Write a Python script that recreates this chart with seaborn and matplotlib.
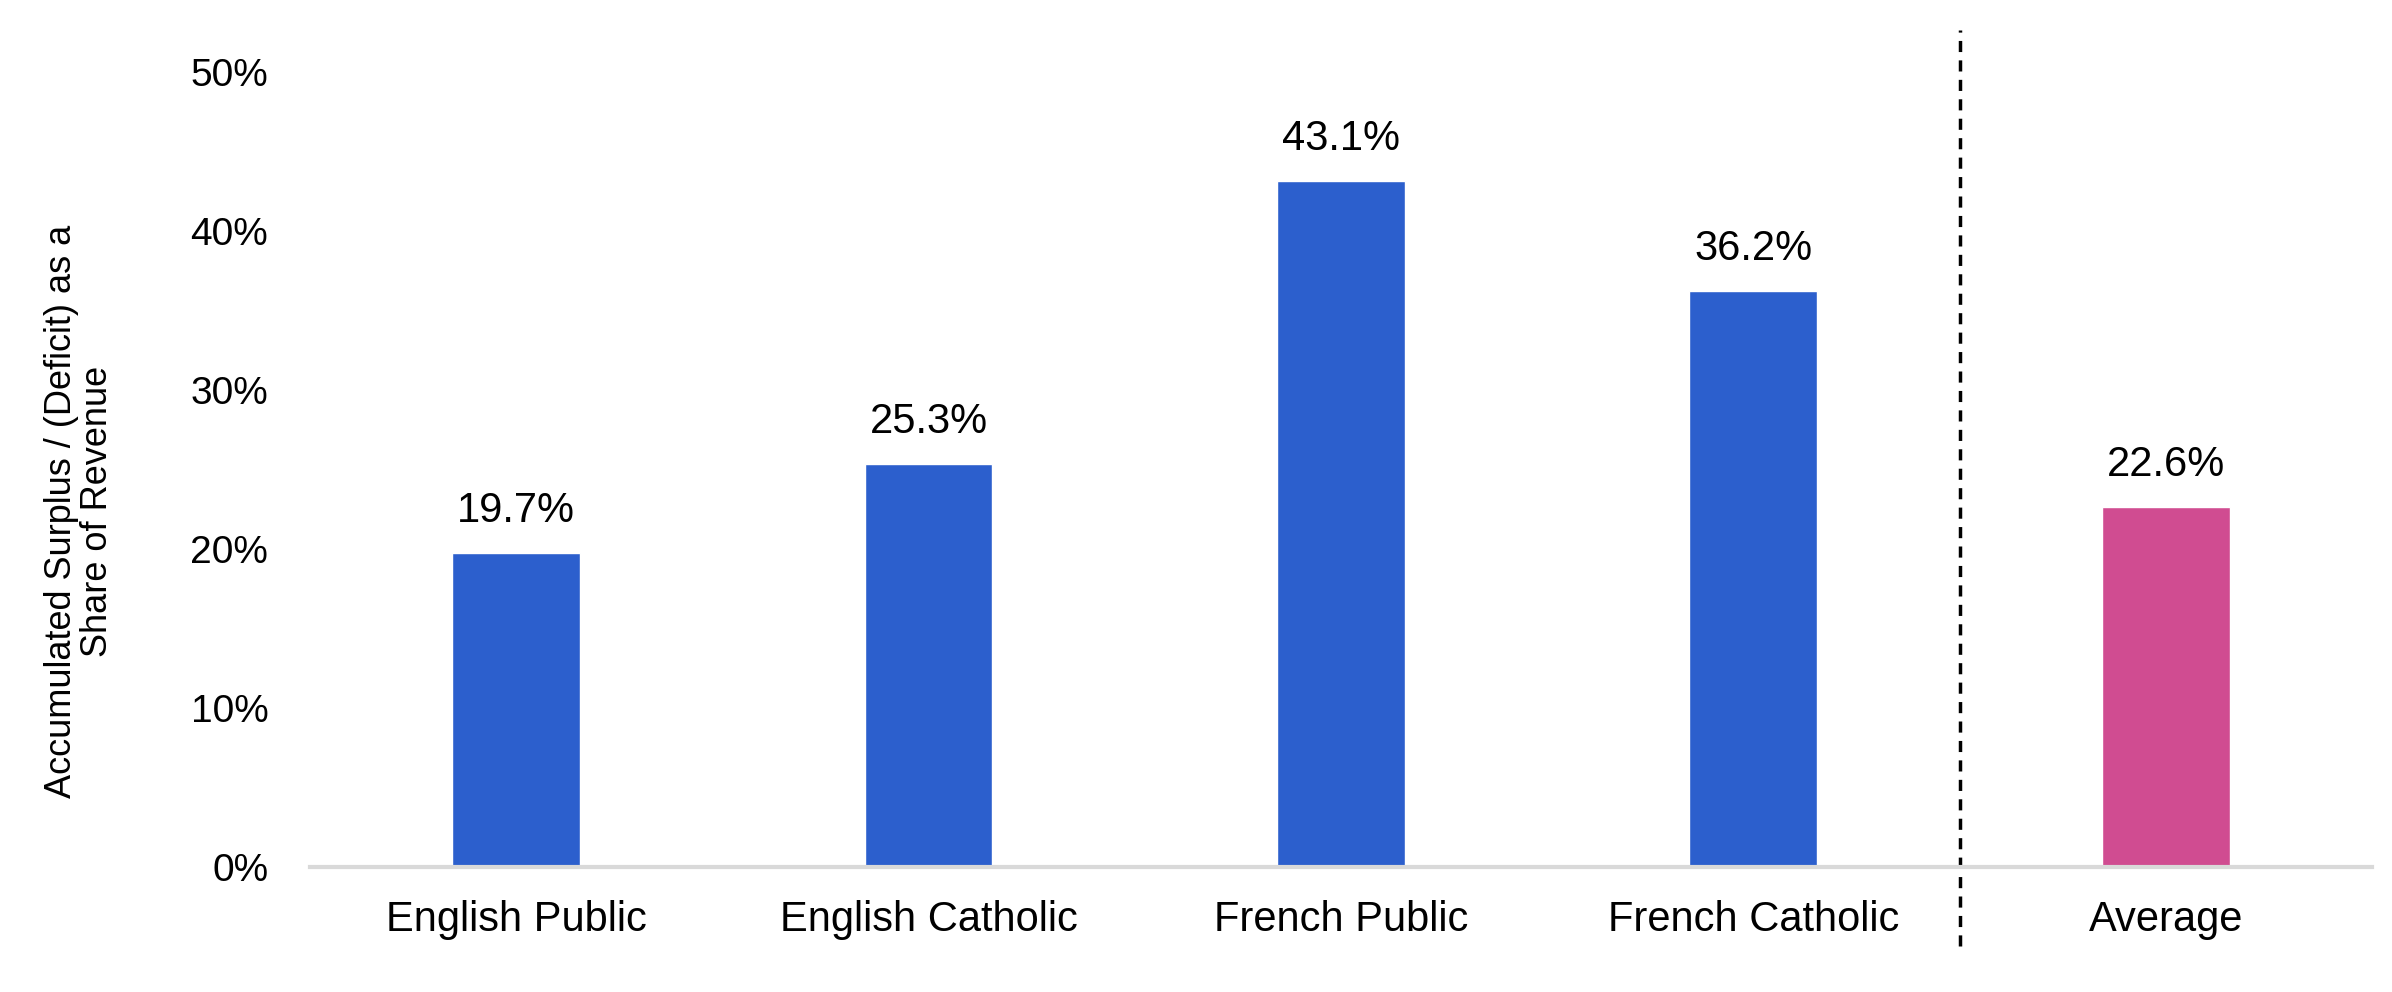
import matplotlib
matplotlib.use("Agg")
import matplotlib.pyplot as plt
import numpy as np
import pandas as pd
import seaborn as sns
from matplotlib.ticker import PercentFormatter

categorii = ["English Public", "English Catholic", "French Public", "French Catholic", "Average"]
valori = [19.7, 25.3, 43.1, 36.2, 22.6]
culori = ["#2C5FCD", "#2C5FCD", "#2C5FCD", "#2C5FCD", "#D04C91"]
etichete_y = [0, 10, 20, 30, 40, 50]

sns.set_style("white")
plt.rcParams["font.family"] = ["Liberation Sans", "DejaVu Sans"]
plt.rcParams["text.color"] = "black"
plt.rcParams["xtick.color"] = "black"
plt.rcParams["ytick.color"] = "black"
plt.rcParams["axes.labelcolor"] = "black"

t = pd.DataFrame({"categorie": categorii, "valoare": valori})

fig = plt.figure(figsize=(23.92, 9.92), dpi=100)
ax = fig.add_axes([0.1296, 0.1265, 0.862, 0.8012])
sns.barplot(data=t, x="categorie", y="valoare", hue="categorie", palette=culori,
            width=0.31, legend=False, saturation=1, ax=ax)

ax.set_ylim(0, 50)
ax.set_xlim(-0.5, len(categorii) - 0.5)
ax.set_yticks(etichete_y)
ax.yaxis.set_major_formatter(PercentFormatter(decimals=0))
ax.tick_params(axis="y", length=0, pad=30, labelsize=28)
ax.tick_params(axis="x", length=0, pad=24, labelsize=30)
ax.set_xlabel("")
ax.set_ylabel("Accumulated Surplus / (Deficit) as a\nShare of Revenue", fontsize=26,
              linespacing=1.05)
ax.yaxis.set_label_coords(-0.0945, 0.447)

for s in ["top", "right", "left"]:
    ax.spines[s].set_visible(False)
ax.spines["bottom"].set_color("#D9D9D9")
ax.spines["bottom"].set_linewidth(3)

for c in ax.containers:
    ax.bar_label(c, labels=[f"{v:.1f}%" for v in c.datavalues], padding=16, fontsize=30)

# linie punctata intre categorii si medie
trans = ax.get_xaxis_transform()
ax.plot([3.5, 3.5], [-0.10, 1.052], transform=trans, color="black", lw=2.5,
        linestyle=(0, (3.2, 2.4)), clip_on=False)

fig.savefig("out.png", dpi=100)
